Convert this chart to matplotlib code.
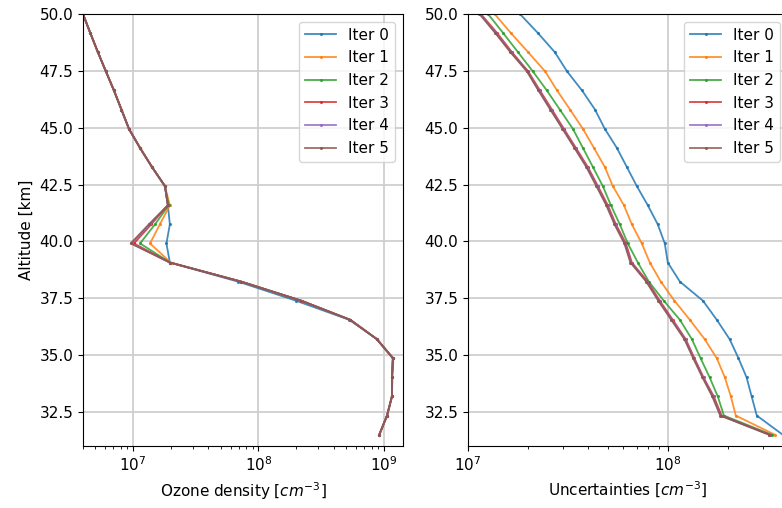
import matplotlib
matplotlib.use("Agg")
import matplotlib.pyplot as plt

plt.rcParams["font.size"] = 11
plt.rcParams["grid.color"] = "#cfcfcf"
plt.rcParams["grid.linewidth"] = 1.3

# altitude grid [km], top to bottom
altitude = [50.0, 49.16, 48.32, 47.48, 46.64, 45.8, 44.95, 44.11, 43.27, 42.43, 41.59,
            40.75, 39.91, 39.07, 38.23, 37.39, 36.55, 35.7, 34.86, 34.02, 33.18, 32.34, 31.5]

iter_labels = ["Iter 0", "Iter 1", "Iter 2", "Iter 3", "Iter 4", "Iter 5"]

# ozone density [cm^-3]
ozone_0 = [4.0e6, 4.58e6, 5.26e6, 6.09e6, 7.06e6, 8.1e6, 9.3e6, 1.14e7, 1.42e7, 1.80e7, 1.90e7,
           1.97e7, 1.85e7, 1.97e7, 6.9e7, 2.0e8, 5.3e8, 8.8e8, 1.19e9, 1.17e9, 1.16e9, 1.06e9, 9.2e8]
ozone_1 = [4.0e6, 4.58e6, 5.26e6, 6.09e6, 7.06e6, 8.1e6, 9.3e6, 1.14e7, 1.42e7, 1.80e7, 1.97e7,
           1.64e7, 1.37e7, 2.0e7, 7.3e7, 2.2e8, 5.4e8, 8.8e8, 1.18e9, 1.16e9, 1.16e9, 1.06e9, 9.2e8]
ozone_2 = [4.0e6, 4.58e6, 5.26e6, 6.09e6, 7.06e6, 8.1e6, 9.3e6, 1.14e7, 1.42e7, 1.80e7, 1.93e7,
           1.50e7, 1.14e7, 1.98e7, 7.3e7, 2.2e8, 5.4e8, 8.8e8, 1.18e9, 1.16e9, 1.16e9, 1.06e9, 9.2e8]
ozone_3 = [4.0e6, 4.58e6, 5.26e6, 6.09e6, 7.06e6, 8.1e6, 9.3e6, 1.14e7, 1.42e7, 1.80e7, 1.90e7,
           1.40e7, 1.02e7, 1.97e7, 7.3e7, 2.2e8, 5.4e8, 8.8e8, 1.18e9, 1.16e9, 1.16e9, 1.06e9, 9.2e8]
ozone_4 = [4.0e6, 4.58e6, 5.26e6, 6.09e6, 7.06e6, 8.1e6, 9.3e6, 1.14e7, 1.42e7, 1.80e7, 1.90e7,
           1.36e7, 9.8e6, 1.97e7, 7.3e7, 2.2e8, 5.4e8, 8.8e8, 1.18e9, 1.16e9, 1.16e9, 1.06e9, 9.2e8]
ozone_5 = [4.0e6, 4.58e6, 5.26e6, 6.09e6, 7.06e6, 8.1e6, 9.3e6, 1.14e7, 1.42e7, 1.80e7, 1.90e7,
           1.34e7, 9.6e6, 1.97e7, 7.3e7, 2.2e8, 5.4e8, 8.8e8, 1.18e9, 1.16e9, 1.16e9, 1.06e9, 9.2e8]

# uncertainties [cm^-3]
unc_0 = [1.82e7, 2.24e7, 2.72e7, 3.13e7, 3.72e7, 4.32e7, 4.84e7, 5.56e7, 6.24e7, 7.0e7, 7.94e7,
         8.91e7, 9.66e7, 1.0e8, 1.15e8, 1.50e8, 1.76e8, 2.04e8, 2.26e8, 2.48e8, 2.63e8, 2.79e8, 3.76e8]
unc_1 = [1.36e7, 1.64e7, 2.0e7, 2.43e7, 2.79e7, 3.24e7, 3.76e7, 4.27e7, 4.84e7, 5.31e7, 6.03e7,
         6.61e7, 7.41e7, 8.13e7, 9.23e7, 1.08e8, 1.29e8, 1.53e8, 1.76e8, 1.93e8, 2.07e8, 2.19e8, 3.43e8]
unc_2 = [1.26e7, 1.50e7, 1.78e7, 2.11e7, 2.48e7, 2.88e7, 3.35e7, 3.76e7, 4.22e7, 4.73e7, 5.19e7,
         5.75e7, 6.31e7, 7.08e7, 8.04e7, 9.55e7, 1.15e8, 1.32e8, 1.46e8, 1.62e8, 1.78e8, 1.91e8, 3.31e8]
unc_3 = [1.16e7, 1.40e7, 1.66e7, 2.0e7, 2.29e7, 2.63e7, 3.02e7, 3.47e7, 3.98e7, 4.47e7, 5.01e7,
         5.50e7, 6.17e7, 6.61e7, 7.94e7, 9.12e7, 1.06e8, 1.23e8, 1.36e8, 1.51e8, 1.70e8, 1.86e8, 3.24e8]
unc_4 = [1.15e7, 1.38e7, 1.64e7, 1.98e7, 2.26e7, 2.60e7, 2.99e7, 3.43e7, 3.94e7, 4.42e7, 4.95e7,
         5.44e7, 6.10e7, 6.54e7, 7.85e7, 9.02e7, 1.05e8, 1.22e8, 1.35e8, 1.50e8, 1.68e8, 1.84e8, 3.22e8]
unc_5 = [1.14e7, 1.37e7, 1.63e7, 1.97e7, 2.25e7, 2.58e7, 2.97e7, 3.41e7, 3.91e7, 4.39e7, 4.92e7,
         5.41e7, 6.06e7, 6.50e7, 7.80e7, 8.96e7, 1.04e8, 1.21e8, 1.34e8, 1.49e8, 1.67e8, 1.83e8, 3.21e8]

ozone = [ozone_0, ozone_1, ozone_2, ozone_3, ozone_4, ozone_5]
unc = [unc_0, unc_1, unc_2, unc_3, unc_4, unc_5]

fig = plt.figure(figsize=(7.82, 5.08), dpi=100)
ax1 = fig.add_axes([0.1061, 0.122, 0.4092, 0.8504])
ax2 = fig.add_axes([0.5985, 0.122, 0.4092, 0.8504])

for lab, dens in zip(iter_labels, ozone):
    ax1.plot(dens, altitude, marker=".", markersize=2.5, linewidth=1.3, alpha=0.85, label=lab)
for lab, u in zip(iter_labels, unc):
    ax2.plot(u, altitude, marker=".", markersize=2.5, linewidth=1.3, alpha=0.85, label=lab)

ax1.set_xscale("log")
ax1.set_xlim(4.0e6, 1.42e9)
ax1.set_ylim(31.0, 50.0)
ax1.set_xlabel("Ozone density [$cm^{-3}$]")
ax1.set_ylabel("Altitude [km]")
ax1.grid(True)
ax1.legend(loc="upper right")

ax2.set_xscale("log")
ax2.set_xlim(1e7, 4e8)
ax2.set_ylim(31.0, 50.0)
ax2.set_xlabel("Uncertainties [$cm^{-3}$]")
ax2.grid(True)
ax2.legend(loc="upper right")

fig.savefig("out.png", dpi=100)
